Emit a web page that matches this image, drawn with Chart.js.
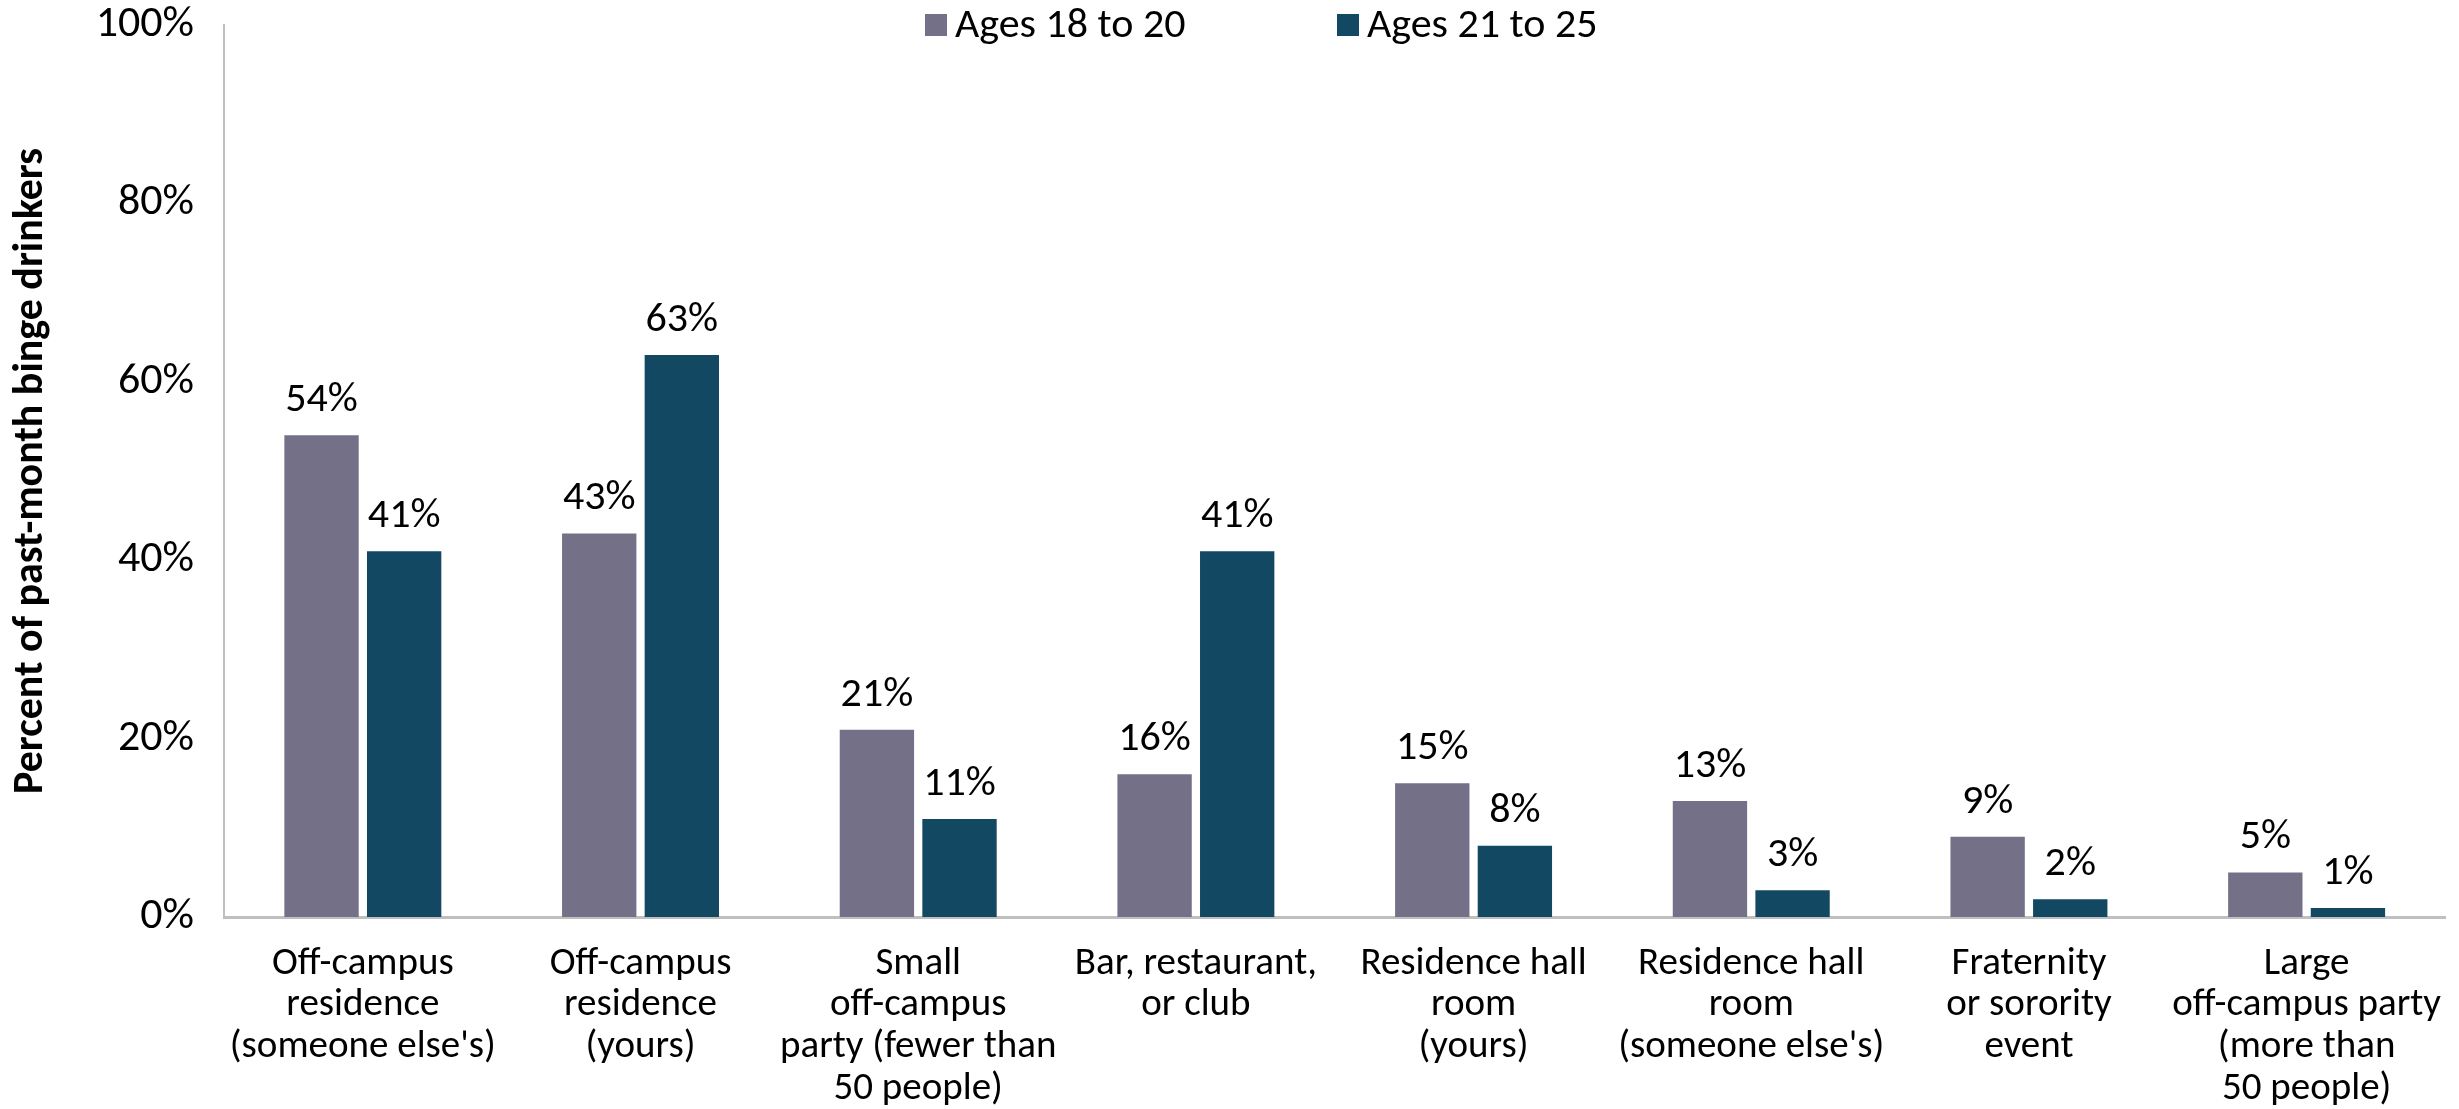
<!DOCTYPE html>
<html>
<head>
<meta charset="utf-8">
<script src="https://cdn.jsdelivr.net/npm/chart.js@4.4.1/dist/chart.umd.min.js"></script>
<style>
  html, body { margin: 0; padding: 0; background: #fff; }
  #wrap { width: 2459px; height: 1109px; position: relative; }
</style>
</head>
<body>
<div id="wrap"><canvas id="myBarChart"></canvas></div>
<script>
const categories = [
  ["Off-campus", "residence", "(someone else's)"],
  ["Off-campus", "residence", "(yours)"],
  ["Small", "off-campus", "party (fewer than", "50 people)"],
  ["Bar, restaurant,", "or club"],
  ["Residence hall", "room", "(yours)"],
  ["Residence hall", "room", "(someone else's)"],
  ["Fraternity", "or sorority", "event"],
  ["Large", "off-campus party", "(more than", "50 people)"]
];
const seriesNames = ["Ages 18 to 20", "Ages 21 to 25"];
const ages18to20 = [54, 43, 21, 16, 15, 13, 9, 5];
const ages21to25 = [41, 63, 11, 41, 8, 3, 2, 1];
const yTicks = [0, 20, 40, 60, 80, 100];

const FONT = "Carlito, 'Noto Sans', sans-serif";
const GREY = "#737088";
const TEAL = "#134862";
const AXIS = "#bfbfbf";

// value labels above each bar
const valueLabels = {
  id: "valueLabels",
  afterDatasetsDraw(chart) {
    const c = chart.ctx;
    c.save();
    c.font = "42px " + FONT;
    c.fillStyle = "#000";
    c.textAlign = "center";
    c.textBaseline = "alphabetic";
    chart.data.datasets.forEach((ds, i) => {
      chart.getDatasetMeta(i).data.forEach((bar, j) => {
        c.fillText(ds.data[j] + "%", bar.x, bar.y - 24);
      });
    });
    c.restore();
  }
};

// legend drawn inside the plot, at the top
const topLegend = {
  id: "topLegend",
  afterDraw(chart) {
    const c = chart.ctx;
    const starts = [925, 1337];
    c.save();
    c.font = "42px " + FONT;
    c.textBaseline = "middle";
    c.textAlign = "left";
    chart.data.datasets.forEach((ds, i) => {
      c.fillStyle = ds.backgroundColor;
      c.fillRect(starts[i], 14, 22, 22);
      c.fillStyle = "#000";
      c.fillText(ds.label, starts[i] + 30, 26);
    });
    c.restore();
  }
};

const data = {
  labels: categories,
  datasets: [
    {
      label: seriesNames[0],
      backgroundColor: GREY,
      data: ages18to20,
      categoryPercentage: 0.595,
      barPercentage: 0.9,
    },
    {
      label: seriesNames[1],
      backgroundColor: TEAL,
      data: ages21to25,
      categoryPercentage: 0.595,
      barPercentage: 0.9,
    },
  ],
};

const config = {
  type: "bar",
  data: data,
  options: {
    responsive: true,
    maintainAspectRatio: false,
    animation: false,
    layout: { padding: { top: 25, left: 0, right: 0, bottom: 0 } },
    plugins: {
      legend: { display: false },
      tooltip: { enabled: false },
    },
    scales: {
      x: {
        grid: { display: false },
        border: { display: true, color: AXIS, width: 3 },
        ticks: {
          color: "#000",
          font: { family: FONT, size: 39, lineHeight: 1.07 },
          padding: 18,
          maxRotation: 0,
          autoSkip: false,
        },
        afterFit(scale) {
          scale.height = 192;
          scale.paddingTop = 0;
        },
      },
      y: {
        min: 0,
        max: 100,
        afterBuildTicks(scale) { scale.ticks = yTicks.map(v => ({ value: v })); },
        grid: { display: false },
        border: { display: true, color: AXIS, width: 2 },
        ticks: {
          color: "#000",
          font: { family: FONT, size: 44 },
          padding: 22,
          callback: v => v + "%",
        },
        title: {
          display: true,
          text: "Percent of past-month binge drinkers",
          color: "#000",
          font: { family: FONT, size: 42, weight: "bold" },
          padding: { top: 6, bottom: 0 },
        },
        afterFit(scale) {
          scale.width = 224;
          scale.paddingTop = 0;
          scale.paddingBottom = 0;
        },
      },
    },
  },
  plugins: [valueLabels, topLegend],
};

const ctx = document.getElementById("myBarChart").getContext("2d");
const myBarChart = new Chart(ctx, config);
</script>
</body>
</html>
